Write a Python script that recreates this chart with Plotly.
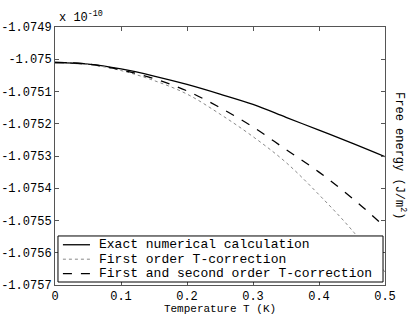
import plotly.graph_objects as go

T = [0.0, 0.05, 0.1, 0.15, 0.2, 0.25, 0.3, 0.35, 0.4, 0.45, 0.5]
exact = [-1.075010, -1.075015, -1.075030, -1.075052, -1.075078, -1.075108,
         -1.075140, -1.075180, -1.075220, -1.075260, -1.075302]
first_order = [-1.075010, -1.075016, -1.075035, -1.075066, -1.075108, -1.075170,
               -1.075240, -1.075320, -1.075420, -1.075530, -1.075660]
second_order = [-1.075010, -1.075015, -1.075033, -1.075060, -1.075098, -1.075150,
                -1.075210, -1.075280, -1.075350, -1.075430, -1.075520]

names = ["Exact numerical calculation", "First order T-correction",
         "First and second order T-correction"]

xticks = [0, 0.1, 0.2, 0.3, 0.4, 0.5]
xticklabels = ["0", "0.1", "0.2", "0.3", "0.4", "0.5"]
yticks = [-1.0749, -1.075, -1.0751, -1.0752, -1.0753, -1.0754, -1.0755, -1.0756, -1.0757]
yticklabels = ["-1.0749", "-1.075", "-1.0751", "-1.0752", "-1.0753", "-1.0754",
               "-1.0755", "-1.0756", "-1.0757"]

FONT = "Liberation Mono"
styles = [dict(color="black", width=1.3, dash="solid"),
          dict(color="#888888", width=1, dash="dot"),
          dict(color="black", width=1.3, dash="dash")]

fig = go.Figure()
for yv, nm, st in zip([exact, first_order, second_order], names, styles):
    fig.add_trace(go.Scatter(x=T, y=yv, mode="lines", name=nm, showlegend=False,
                             line=dict(shape="spline", **st)))

axis_common = dict(showline=True, linecolor="#555555", linewidth=1, mirror="ticks",
                   ticks="inside", ticklen=4, tickcolor="#555555", showgrid=False,
                   zeroline=False, automargin=False,
                   tickfont=dict(family=FONT, size=12, color="black"))

# custom legend (box, sample lines, labels)
shapes = [dict(type="rect", xref="paper", yref="paper", x0=0.009, x1=0.994,
               y0=0.0116, y1=0.190, line=dict(color="black", width=1),
               fillcolor="white", layer="above")]
annotations = []
rows = [0.156, 0.1, 0.044]
for ry, nm, st in zip(rows, names, styles):
    shapes.append(dict(type="line", xref="paper", yref="paper", x0=0.024, x1=0.106,
                       y0=ry, y1=ry, line=st, layer="above"))
    annotations.append(dict(text=nm, xref="paper", yref="paper", x=0.126, y=ry,
                            xanchor="left", yanchor="middle", showarrow=False,
                            font=dict(family=FONT, size=13)))

annotations += [
    dict(text="x 10<sup>-10</sup>", xref="paper", yref="paper", x=0.005, y=1.0,
         xanchor="left", yanchor="bottom", showarrow=False,
         font=dict(family=FONT, size=12)),
    dict(text="Free energy (J/m<sup>2</sup>)", xref="paper", yref="paper",
         x=1.015, y=0.5, xanchor="left", yanchor="middle", textangle=90,
         showarrow=False, font=dict(family=FONT, size=12)),
]

fig.update_layout(
    width=415, height=315,
    margin=dict(l=55, r=30, t=27, b=30),
    paper_bgcolor="white", plot_bgcolor="white",
    font=dict(family=FONT, size=12, color="black"),
    xaxis=dict(range=[0, 0.5], tickvals=xticks, ticktext=xticklabels,
               title=dict(text="Temperature T (K)", font=dict(family=FONT, size=11), standoff=0),
               **axis_common),
    yaxis=dict(range=[-1.0757, -1.0749], tickvals=yticks, ticktext=yticklabels,
               **axis_common),
    showlegend=False,
    shapes=shapes,
    annotations=annotations,
)

# remove the default page margin so the figure sits at the window's top-left corner
fig.write_html("out.html", config={"displayModeBar": False},
               post_script="document.body.style.margin='0';document.body.style.padding='0';")
